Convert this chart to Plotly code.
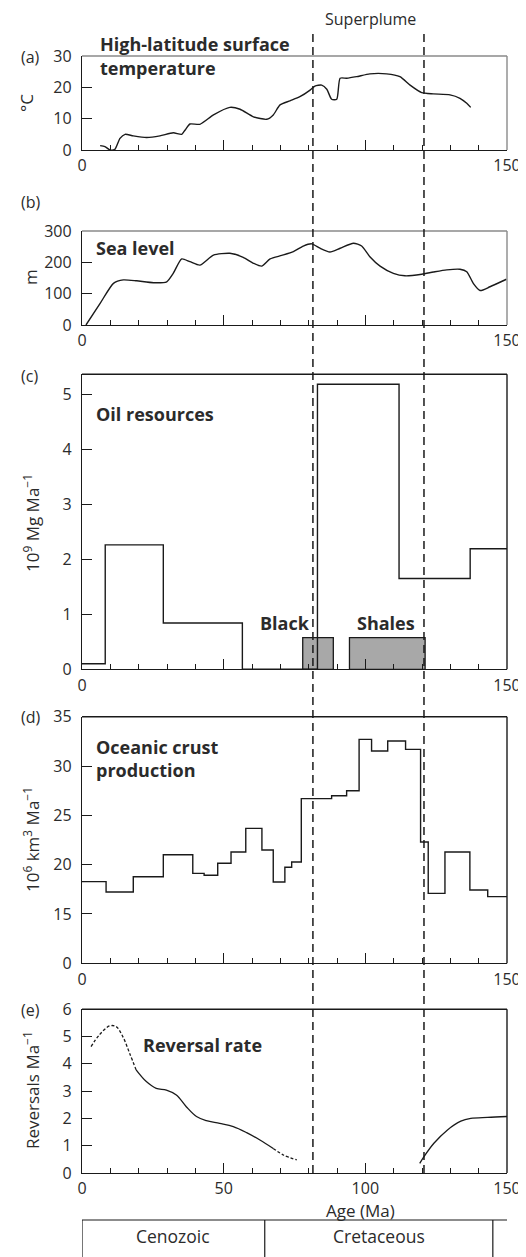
import plotly.graph_objects as go

W, H = 526, 1257
OFF = 8  # page body margin the figure is drawn inside

# ---------------- data ----------------
temp_age = [6.4, 8.1, 9.9, 11.6, 13.4, 15.2, 18.1, 22.8, 27.5, 32.2, 35.2, 36.4, 38.1, 41.6,
            46.4, 52.2, 55.8, 60.5, 65.2, 67.5, 69.9, 73.4, 76.9, 80.5, 82.2, 84.6, 86.4,
            88.1, 89.9, 91.1, 93.4, 96.9, 101.6, 107.5, 112.2, 115.8, 119.9, 124.0, 129.9,
            133.4, 135.8, 137.2]
temp_c = [1.4, 1.1, 0.0, 0.2, 3.7, 5.0, 4.5, 4.0, 4.5, 5.5, 5.0, 6.4, 8.3, 8.2,
          11.2, 13.6, 13.0, 10.6, 9.8, 11.2, 14.4, 15.7, 17.0, 19.1, 20.4, 20.7, 19.4,
          16.2, 16.2, 22.9, 22.9, 23.4, 24.3, 24.3, 23.4, 20.7, 18.3, 17.9, 17.6,
          16.5, 14.9, 13.6]

sea_age = [1.4, 6.4, 11.1, 14.6, 19.3, 25.2, 29.9, 32.2, 35.2, 38.1, 41.6, 46.4, 52.2, 56.9,
           60.5, 63.4, 66.4, 70.5, 74.6, 78.1, 81.1, 84.0, 87.5, 91.1, 95.8, 98.7, 101.6,
           105.2, 109.9, 114.0, 119.9, 124.0, 128.7, 133.4, 135.8, 138.1, 140.5, 144.0, 149.8]
sea_m = [0, 69, 133, 144, 141, 135, 138, 165, 211, 202, 191, 223, 229, 216,
         197, 188, 211, 222, 234, 252, 259, 245, 233, 245, 261, 252, 218,
         188, 165, 157, 162, 169, 176, 178, 170, 133, 110, 122, 146]

oil_edges = [0, 8.2, 28.7, 56.6, 83.1, 111.9, 137.0, 150]
oil_values = [0.1, 2.26, 0.84, 0.0, 5.18, 1.65, 2.19]

shale_start = [77.9, 94.4]
shale_end = [88.7, 121.1]
shale_value = [0.575, 0.575]

crust_edges = [0, 8.5, 18.1, 28.7, 39.1, 43.1, 47.9, 52.6, 57.8, 63.5, 67.5, 71.6, 74.0,
               77.4, 88.1, 93.4, 97.8, 102.2, 107.9, 114.2, 119.5, 122.2, 128.1, 136.9,
               143.2, 150]
crust_values = [18.28, 17.23, 18.78, 21.01, 19.12, 18.92, 20.14, 21.28, 23.68, 21.49,
                18.24, 19.73, 20.27, 26.69, 26.99, 27.5, 32.7, 31.52, 32.53, 31.69,
                22.3, 17.09, 21.28, 17.43, 16.76]

rev_head_age = [3.2, 6.1, 9.7, 12.0, 14.4, 16.8, 19.1]
rev_head_rate = [4.63, 5.06, 5.39, 5.37, 5.0, 4.39, 3.78]
rev_mid_age = [19.1, 22.7, 26.2, 29.8, 33.3, 36.8, 40.4, 43.9, 48.6, 53.4, 58.1, 62.8, 67.5]
rev_mid_rate = [3.78, 3.35, 3.1, 3.04, 2.86, 2.43, 2.07, 1.92, 1.82, 1.70, 1.48, 1.21, 0.90]
rev_tail_age = [67.5, 71.1, 75.8]
rev_tail_rate = [0.90, 0.66, 0.48]
rev_old_age = [119.2, 120.7, 124.2, 129.0, 133.7, 137.2, 143.1, 150.0]
rev_old_rate = [0.35, 0.60, 1.09, 1.58, 1.90, 2.0, 2.04, 2.07]

superplume = [81.5, 120.7]
era_names = ["Cenozoic", "Cretaceous"]
era_bounds = [0, 64.5, 145]

x_ticks_major = [0, 50, 100, 150]
x_ticks_minor = [10, 20, 30, 40, 60, 70, 80, 90, 110, 120, 130, 140]

# ---------------- layout helpers ----------------
FONT = "Open Sans"
TXT = "#2b2b2b"
INK = "#1a1a1a"


def px(x):
    return (x - OFF) / W


def py(y):
    return 1 - (y - OFF) / H


XDOM = [px(82), px(507)]
panels = {  # top, bottom pixel rows
    1: (56, 150),
    2: (231, 325),
    3: (374.3, 669.3),
    4: (716.7, 963.3),
    5: (1009.3, 1173),
}

fig = go.Figure()

LINE = dict(color=INK, width=1.4)

# (a) temperature
fig.add_trace(go.Scatter(x=temp_age, y=temp_c, mode="lines", line=dict(LINE, shape="spline", smoothing=0.6),
                         xaxis="x", yaxis="y"))
# (b) sea level
fig.add_trace(go.Scatter(x=sea_age, y=sea_m, mode="lines", line=dict(LINE, shape="spline", smoothing=0.6),
                         xaxis="x2", yaxis="y2"))
# (c) black shales
fig.add_trace(go.Bar(x=[(a + b) / 2 for a, b in zip(shale_start, shale_end)],
                     y=shale_value, width=[b - a for a, b in zip(shale_start, shale_end)],
                     base=0, marker=dict(color="#a8a8a8", line=dict(color=INK, width=1.3)),
                     xaxis="x3", yaxis="y3"))
# (c) oil resources
fig.add_trace(go.Scatter(x=oil_edges, y=oil_values + [oil_values[-1]], mode="lines",
                         line=dict(LINE, shape="hv"), xaxis="x3", yaxis="y3"))
# (d) oceanic crust production
fig.add_trace(go.Scatter(x=crust_edges, y=crust_values + [crust_values[-1]], mode="lines",
                         line=dict(LINE, shape="hv"), xaxis="x4", yaxis="y4"))
# (e) reversal rate
DASH = "3px,2px"
fig.add_trace(go.Scatter(x=rev_head_age, y=rev_head_rate, mode="lines",
                         line=dict(color=INK, width=1.3, shape="spline", dash=DASH),
                         xaxis="x5", yaxis="y5"))
fig.add_trace(go.Scatter(x=rev_mid_age, y=rev_mid_rate, mode="lines",
                         line=dict(color=INK, width=1.3, shape="spline"),
                         xaxis="x5", yaxis="y5"))
fig.add_trace(go.Scatter(x=rev_tail_age, y=rev_tail_rate, mode="lines",
                         line=dict(color=INK, width=1.3, shape="spline", dash=DASH),
                         xaxis="x5", yaxis="y5"))
fig.add_trace(go.Scatter(x=rev_old_age, y=rev_old_rate, mode="lines",
                         line=dict(color=INK, width=1.3, shape="spline"),
                         xaxis="x5", yaxis="y5"))

tickfont = dict(family=FONT, size=16, color=TXT)


def xaxis(i, show_mid):
    return dict(
        domain=XDOM, range=[0, 150], anchor="y" if i == 1 else f"y{i}",
        automargin=False,
        showline=True, linecolor=INK, linewidth=1.4, mirror=False,
        showgrid=False, zeroline=False,
        tickmode="array", tickvals=x_ticks_major,
        ticktext=[str(v) if (show_mid or v in (0, 150)) else "" for v in x_ticks_major],
        ticks="inside", ticklen=10, tickwidth=1.3, tickcolor=INK,
        minor=dict(ticks="inside", ticklen=5, tickwidth=1.2, tickcolor=INK,
                   tickmode="array", tickvals=x_ticks_minor),
        tickfont=tickfont, ticklabelstandoff=1,
    )


def yaxis(i, rng, tickvals, ticktext=None):
    d = dict(
        domain=[py(panels[i][1]), py(panels[i][0])], range=rng,
        anchor="x" if i == 1 else f"x{i}",
        automargin=False,
        showline=True, linecolor=INK, linewidth=1.4, mirror=False,
        showgrid=False, zeroline=False, tickmode="array", tickvals=tickvals,
        ticks="inside", ticklen=10, tickwidth=1.3, tickcolor=INK,
        tickfont=tickfont, ticklabelstandoff=6,
    )
    if ticktext is not None:
        d["ticktext"] = ticktext
    return d


layout = dict(
    width=W, height=H, margin=dict(l=0, r=0, t=0, b=0, pad=0), autosize=False,
    paper_bgcolor="white", plot_bgcolor="white", showlegend=False,
    font=dict(family=FONT, color=TXT),
    xaxis=xaxis(1, False), xaxis2=xaxis(2, False), xaxis3=xaxis(3, False),
    xaxis4=xaxis(4, False), xaxis5=xaxis(5, True),
    yaxis=yaxis(1, [0, 30], [0, 10, 20, 30]),
    yaxis2=yaxis(2, [0, 300], [0, 100, 200, 300]),
    yaxis3=yaxis(3, [0, 5.36], [0, 1, 2, 3, 4, 5]),
    yaxis4=yaxis(4, [10, 35], [10, 15, 20, 25, 30, 35], ["0", "15", "20", "25", "30", "35"]),
    yaxis5=yaxis(5, [0, 6], [0, 1, 2, 3, 4, 5, 6]),
)
fig.update_layout(**layout)

shapes = []
# top / right box edges
for i in range(1, 6):
    col = "#8a8a8a" if i in (1, 2) else INK
    xr = "x domain" if i == 1 else f"x{i} domain"
    yr = "y domain" if i == 1 else f"y{i} domain"
    shapes.append(dict(type="line", xref=xr, yref=yr, x0=0, x1=1, y0=1, y1=1,
                       line=dict(color=col, width=1.4)))
    shapes.append(dict(type="line", xref=xr, yref=yr, x0=1, x1=1, y0=0, y1=1,
                       line=dict(color=col, width=1.4)))
# superplume dashed lines
for s in superplume:
    shapes.append(dict(type="line", xref="x5", yref="paper", x0=s, x1=s,
                       y0=py(1173), y1=py(31),
                       line=dict(color=INK, width=1.5, dash="8px,5px")))
# era table
shapes.append(dict(type="line", xref="x5", yref="paper", x0=era_bounds[0], x1=165,
                   y0=py(1220), y1=py(1220), line=dict(color=INK, width=1.2)))
for b in era_bounds:
    shapes.append(dict(type="line", xref="x5", yref="paper", x0=b, x1=b,
                       y0=py(1220), y1=0, line=dict(color=INK, width=1.2)))
fig.update_layout(shapes=shapes)

ann = []


def text(x, y, t, size=17, bold=False, xanchor="left", angle=0):
    ann.append(dict(x=px(x), y=py(y), xref="paper", yref="paper", text=f"<b>{t}</b>" if bold else t,
                    showarrow=False, xanchor=xanchor, yanchor="middle", textangle=angle,
                    font=dict(family=FONT, size=size, color=TXT)))


for lab, yy in zip(["(a)", "(b)", "(c)", "(d)", "(e)"], [57, 202, 376, 717, 1010]):
    text(19, yy, lab, size=16)

text(370, 19, "Superplume", size=16, xanchor="center")
text(98, 44, "High-latitude surface", size=18, bold=True)
text(98, 68, "temperature", size=18, bold=True)
text(94, 248, "Sea level", size=18, bold=True)
text(94, 414, "Oil resources", size=18, bold=True)
text(94, 747, "Oceanic crust", size=18, bold=True)
text(94, 770, "production", size=18, bold=True)
text(141, 1045, "Reversal rate", size=18, bold=True)
text(285, 623, "Black", size=18, bold=True, xanchor="center")
text(386, 623, "Shales", size=18, bold=True, xanchor="center")

text(26, 103, "°C", size=17, xanchor="center", angle=-90)
text(30, 277, "m", size=17, xanchor="center", angle=-90)
text(31, 523, "10<sup>9</sup> Mg Ma<sup>−1</sup>", size=17, xanchor="center", angle=-90)
text(31, 840, "10<sup>6</sup> km<sup>3</sup> Ma<sup>−1</sup>", size=17, xanchor="center", angle=-90)
text(31, 1090, "Reversals Ma<sup>−1</sup>", size=17, xanchor="center", angle=-90)

text(360, 1210.5, "Age (Ma)", size=17, xanchor="center")
centers = [(a + b) / 2 for a, b in zip(era_bounds[:-1], era_bounds[1:])]
for name, c in zip(era_names, centers):
    ann.append(dict(x=c, y=py(1236), xref="x5", yref="paper", text=name, showarrow=False,
                    xanchor="center", yanchor="middle", font=dict(family=FONT, size=17.5, color=TXT)))

fig.update_layout(annotations=ann)
fig.write_html("out.html")
